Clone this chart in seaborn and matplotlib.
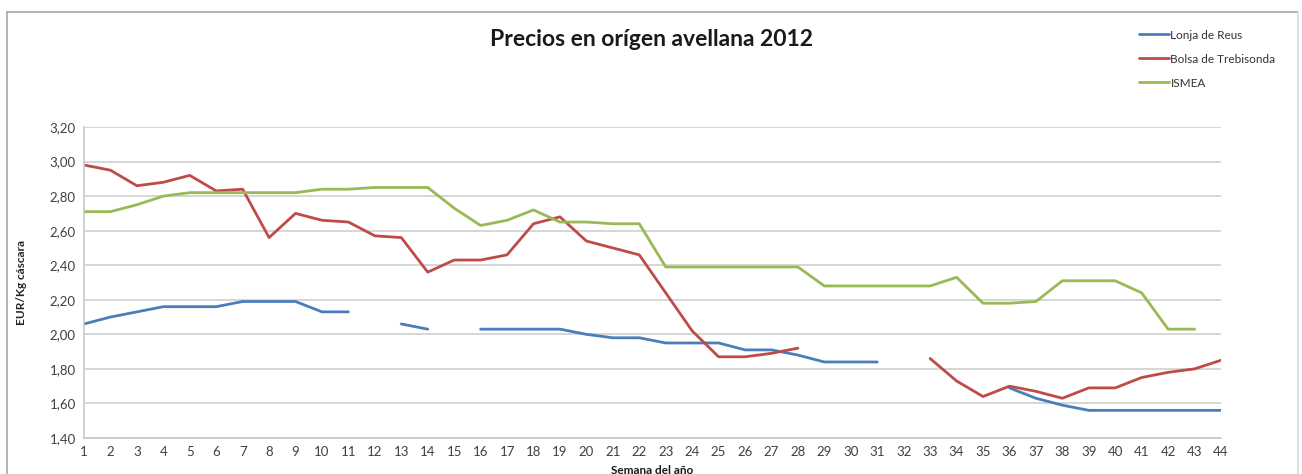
import numpy as np
import pandas as pd
import seaborn as sns
import matplotlib.pyplot as plt
from matplotlib.ticker import FuncFormatter

nan = np.nan

semanas = list(range(1, 45))

lonja_reus = [2.06, 2.10, 2.13, 2.16, 2.16, 2.16, 2.19, 2.19, 2.19, 2.13,
              2.13, nan, 2.06, 2.03, nan, 2.03, 2.03, 2.03, 2.03, 2.00,
              1.98, 1.98, 1.95, 1.95, 1.95, 1.91, 1.91, 1.88, 1.84, 1.84,
              1.84, nan, nan, nan, nan, 1.69, 1.63, 1.59, 1.56, 1.56,
              1.56, 1.56, 1.56, 1.56]

bolsa_trebisonda = [2.98, 2.95, 2.86, 2.88, 2.92, 2.83, 2.84, 2.56, 2.70, 2.66,
                    2.65, 2.57, 2.56, 2.36, 2.43, 2.43, 2.46, 2.64, 2.68, 2.54,
                    2.50, 2.46, 2.24, 2.02, 1.87, 1.87, 1.89, 1.92, nan, nan,
                    nan, nan, 1.86, 1.73, 1.64, 1.70, 1.67, 1.63, 1.69, 1.69,
                    1.75, 1.78, 1.80, 1.85]

ismea = [2.71, 2.71, 2.75, 2.80, 2.82, 2.82, 2.82, 2.82, 2.82, 2.84,
         2.84, 2.85, 2.85, 2.85, 2.73, 2.63, 2.66, 2.72, 2.65, 2.65,
         2.64, 2.64, 2.39, 2.39, 2.39, 2.39, 2.39, 2.39, 2.28, 2.28,
         2.28, 2.28, 2.28, 2.33, 2.18, 2.18, 2.19, 2.31, 2.31, 2.31,
         2.24, 2.03, 2.03, nan]

series = {
    'Lonja de Reus': lonja_reus,
    'Bolsa de Trebisonda': bolsa_trebisonda,
    'ISMEA': ismea,
}
colores = {'Lonja de Reus': '#4A7EBB', 'Bolsa de Trebisonda': '#BE4B48', 'ISMEA': '#98B954'}

# long format, with a segment id so gaps (missing weeks) stay open
rows = []
for nombre, valores in series.items():
    tramo = 0
    for s, v in zip(semanas, valores):
        if np.isnan(v):
            tramo += 1
            continue
        rows.append({'semana': s, 'precio': v, 'serie': nombre, 'tramo': f'{nombre}-{tramo}'})
df = pd.DataFrame(rows)

sns.set_style('white')
plt.rcParams['font.family'] = ['Lato', 'DejaVu Sans']

fig = plt.figure(figsize=(13.02, 4.74), dpi=100)
ax = fig.add_axes([84 / 1302, 1 - 438 / 474, (1221 - 84) / 1302, (438 - 127) / 474])

sns.lineplot(data=df, x='semana', y='precio', hue='serie', units='tramo',
             estimator=None, palette=colores, linewidth=2.0, ax=ax, legend=False)

ax.set_xlim(1, 44)
ax.set_ylim(1.4, 3.2)
ax.set_xticks(semanas)
ax.set_yticks(np.arange(1.4, 3.21, 0.2))
ax.yaxis.set_major_formatter(FuncFormatter(lambda v, p: f'{v:.2f}'.replace('.', ',')))
ax.tick_params(axis='both', length=0, labelsize=9.5, labelcolor='#404040', pad=6)
ax.yaxis.grid(True, color='#d0d0d0', linewidth=1.2)
ax.set_axisbelow(True)
for lado in ['top', 'right']:
    ax.spines[lado].set_visible(False)
for lado in ['left', 'bottom']:
    ax.spines[lado].set_color('#c8c8c8')
    ax.spines[lado].set_linewidth(1.2)
ax.set_xlabel('')
ax.set_ylabel('EUR/Kg cáscara', fontsize=8.5, fontweight='bold')
ax.yaxis.set_label_coords(-0.050, 0.5)

fig.text(652 / 1302, 1 - 40 / 474, 'Precios en orígen avellana 2012',
         ha='center', va='center', fontsize=16.5, fontweight='bold', color='#1a1a1a')
fig.text(652 / 1302, 1 - 465 / 474, 'Semana del año', ha='center', va='top',
         fontsize=8.5, fontweight='bold', color='#1a1a1a')

# legend in the upper right, outside the plot area
handles = [plt.Line2D([], [], color=colores[n], linewidth=2.0) for n in series]
fig.legend(handles, list(series.keys()), loc='upper left',
           bbox_to_anchor=(1128 / 1302, 1 - 19 / 474), frameon=False,
           fontsize=8.5, handlelength=2.6, handletextpad=0.1, labelspacing=1.1,
           labelcolor='#333333')

# chart frame
marco = dict(color='#a6a6a6', linewidth=1.2, transform=fig.transFigure)
fig.add_artist(plt.Line2D([7 / 1302, 7 / 1302], [0, 1 - 12 / 474], **marco))
fig.add_artist(plt.Line2D([7 / 1302, 1298 / 1302], [1 - 12 / 474, 1 - 12 / 474], **marco))
fig.add_artist(plt.Line2D([1298 / 1302, 1298 / 1302], [0, 1 - 12 / 474], color='#dcdcdc',
                          linewidth=1.2, transform=fig.transFigure))

fig.savefig('out.png', dpi=100)
